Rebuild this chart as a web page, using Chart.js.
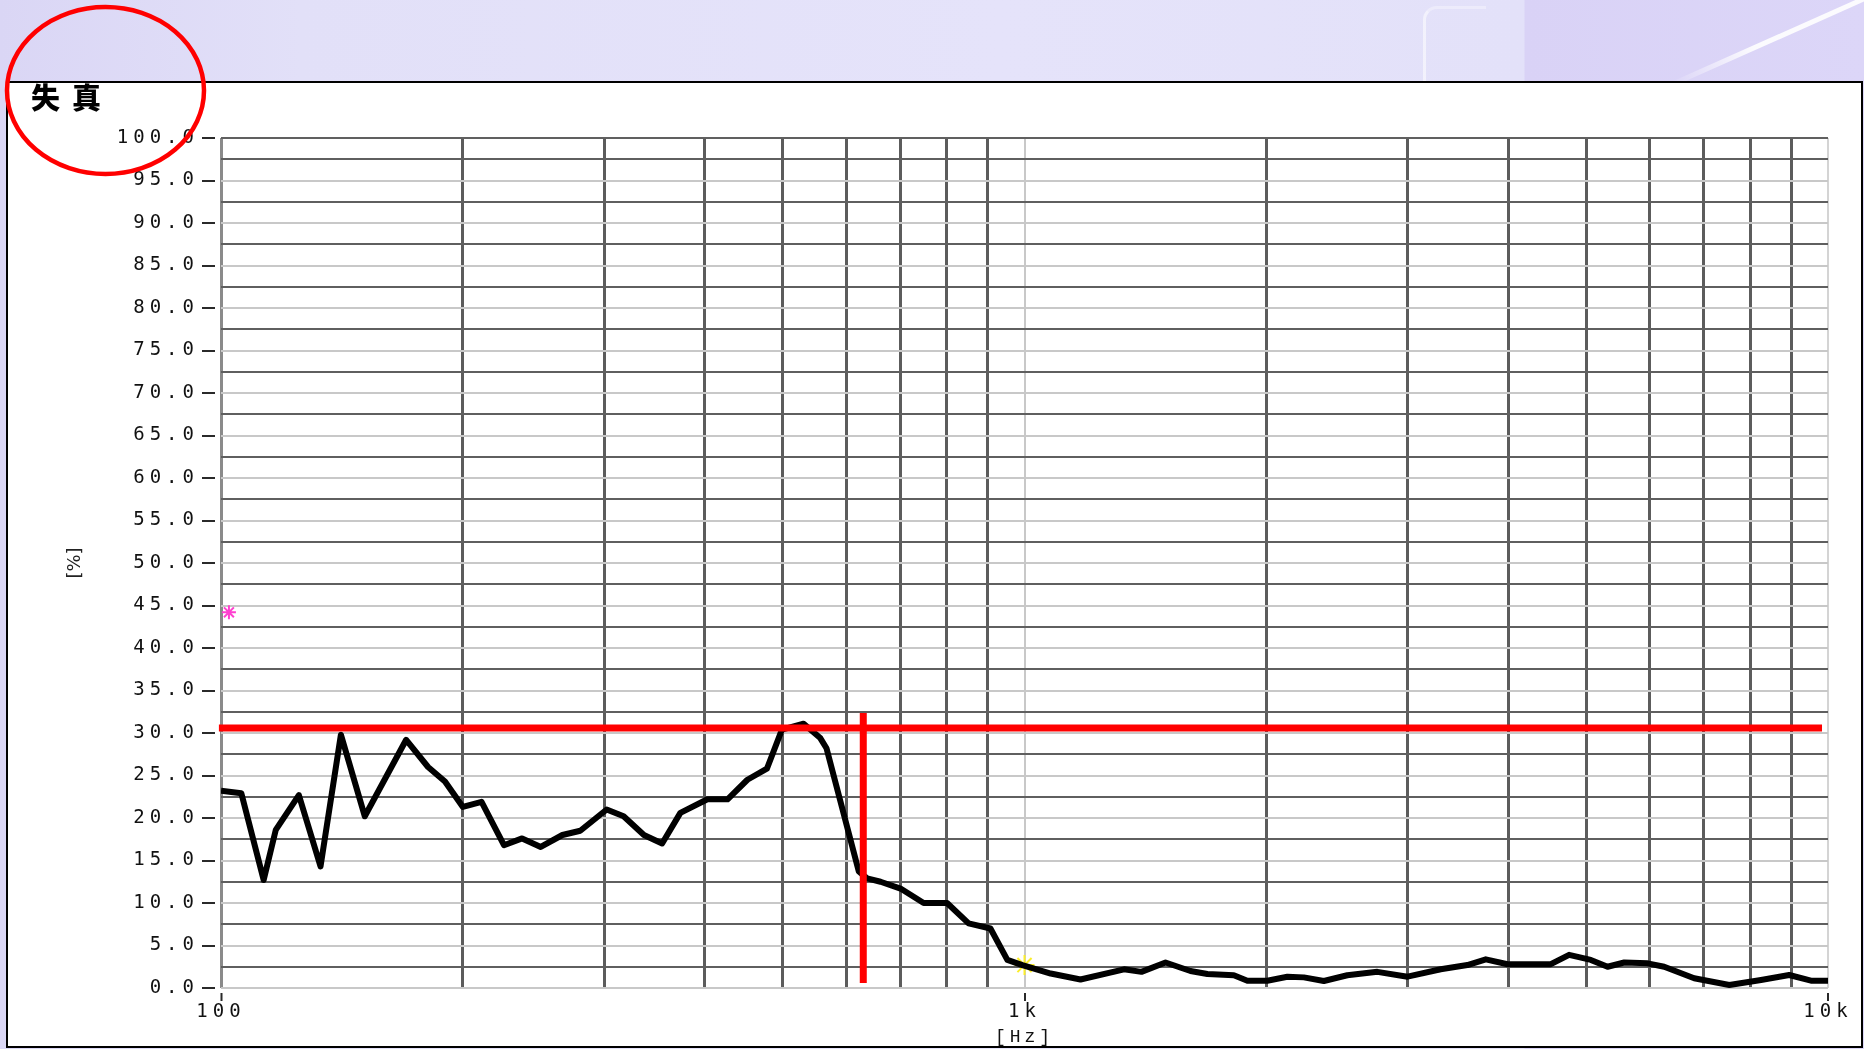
<!DOCTYPE html>
<html><head><meta charset="utf-8">
<script src="https://cdn.jsdelivr.net/npm/chart.js@4.4.1/dist/chart.umd.min.js"></script>
<style>
html,body{margin:0;padding:0}
body{width:1864px;height:1049px;overflow:hidden;position:relative;
background:linear-gradient(90deg,#dad6f5 0px,#e2e0f8 300px,#e5e3fa 1000px,#e3e1f9 1524px,#d9d2f6 1525px,#dcd6f8 1864px);}
#frame{position:absolute;left:6px;top:81px;width:1857px;height:967px;box-sizing:border-box;border:2px solid #000;background:#fff}
#swoosh{position:absolute;left:1660px;top:36px;width:230px;height:5px;background:linear-gradient(90deg,rgba(255,255,255,0),rgba(255,255,255,.9) 40%,rgba(255,255,255,.9));transform:rotate(-24deg);}
#corner{position:absolute;left:1423px;top:6px;width:60px;height:76px;border-left:3px solid rgba(255,255,255,.55);border-top:3px solid rgba(255,255,255,.35);border-top-left-radius:14px;}
canvas{position:absolute;left:0;top:0}
</style></head><body>
<div id="corner"></div><div id="swoosh"></div>
<div id="frame"></div>
<canvas id="c" width="1864" height="1049"></canvas>
<script>
// ---- data ----
const freqHz = [100,106,113,117,125,133,141,151,170,181,190,200,211,225,237,250,266,280,302,317,336,354,373,403,427,452,478,499,531,557,567,622,637,662,701,749,801,852,907,952,994,1078,1174,1330,1398,1498,1609,1689,1822,1894,2005,2124,2227,2358,2522,2749,2997,3296,3558,3751,3992,4519,4762,5068,5317,5577,5963,6254,6815,7537,8253,8948,9524,10000];
const distortionPct = [23.2,22.9,12.7,18.6,22.7,14.3,29.8,20.2,29.2,26.0,24.3,21.3,21.9,16.8,17.6,16.6,18.0,18.5,21.0,20.2,18.0,17.0,20.6,22.2,22.2,24.5,25.8,30.4,31.1,29.4,28.2,13.7,12.9,12.5,11.7,10.0,10.0,7.6,7.0,3.3,2.7,1.7,1.0,2.2,1.9,3.0,2.0,1.65,1.5,0.86,0.86,1.33,1.25,0.82,1.5,1.9,1.33,2.2,2.7,3.37,2.8,2.8,3.9,3.3,2.5,3.0,2.9,2.5,1.14,0.35,0.94,1.53,0.86,0.86];

const refLevelPct = 30.6;            // red horizontal marker level
const refLevelSpanHz = [99.4, 9830]; // its extent
const cutoffHz = 630;                // red vertical marker
const cutoffSpanPct = [32.35, 0.6];
const cursorA = {x: 102.3, y: 44.2}; // magenta cursor
const cursorB = {x: 1000, y: 2.7};   // yellow cursor

const yGridValues = [0,2.5,5,7.5,10,12.5,15,17.5,20,22.5,25,27.5,30,32.5,35,37.5,40,42.5,45,47.5,50,52.5,55,57.5,60,62.5,65,67.5,70,72.5,75,77.5,80,82.5,85,87.5,90,92.5,95,97.5,100];
const yLabelValues = [0,5,10,15,20,25,30,35,40,45,50,55,60,65,70,75,80,85,90,95,100];
const xGridValues = [100,200,300,400,500,600,700,800,900,1000,2000,3000,4000,5000,6000,7000,8000,9000,10000];
const xLabelValues = [100,1000,10000];
const xLabelTexts = ['100','1k','10k'];

// ---- per-font letter spacing (reference text is horizontally stretched) ----
const canvas = document.getElementById('c');
const ctx = canvas.getContext('2d');
const spacingByFamily = [['DejaVu Sans Mono','5px'],['Liberation Mono','4px'],['Noto Sans CJK SC','12px']];
const fontDesc = Object.getOwnPropertyDescriptor(CanvasRenderingContext2D.prototype,'font');
Object.defineProperty(ctx,'font',{configurable:true,
  get(){return fontDesc.get.call(this);},
  set(v){fontDesc.set.call(this,v);let sp='0px';for(const [f,s] of spacingByFamily){if(String(v).includes(f)){sp=s;break;}}if('letterSpacing' in this)this.letterSpacing=sp;}});

const highlight = {cx:105.5, cy:90.5, rx:98.5, ry:83.5, width:4.5, color:'#ff0000'};
const circlePlugin = {id:'highlightCircle', afterDraw(chart){
  const c = chart.ctx; c.save(); c.strokeStyle = highlight.color; c.lineWidth = highlight.width;
  c.beginPath(); c.ellipse(highlight.cx, highlight.cy, highlight.rx, highlight.ry, 0, 0, Math.PI*2); c.stroke(); c.restore();
}};

const mainLine = freqHz.map((f,i)=>({x:f, y:distortionPct[i]}));

new Chart(ctx, {
  type:'line',
  data:{datasets:[
    {data:[{x:refLevelSpanHz[0],y:refLevelPct},{x:refLevelSpanHz[1],y:refLevelPct}], borderColor:'#ff0000', borderWidth:7, pointRadius:0, borderCapStyle:'butt', clip:false, order:0},
    {data:[{x:cutoffHz,y:cutoffSpanPct[0]},{x:cutoffHz,y:cutoffSpanPct[1]}], borderColor:'#ff0000', borderWidth:7, pointRadius:0, borderCapStyle:'butt', clip:false, order:0},
    {data:[cursorA], showLine:false, pointStyle:'star', pointRadius:7, pointBorderColor:'#ff40d0', pointBorderWidth:2, clip:false, order:0},
    {data:mainLine, borderColor:'#000000', borderWidth:6, pointRadius:0, tension:0, borderJoinStyle:'round', order:1},
    {data:[cursorB], showLine:false, pointStyle:'star', pointRadius:10, pointBorderColor:'#fbee2a', pointBorderWidth:2, clip:false, order:2}
  ]},
  options:{
    responsive:false, animation:false, devicePixelRatio:1, events:[],
    layout:{padding:{left:31, top:83, right:36, bottom:0}},
    plugins:{
      legend:{display:false}, tooltip:{enabled:false},
      title:{display:true, text:'失真', align:'start', color:'#000',
        font:{family:"'Noto Sans CJK SC', sans-serif", size:29, weight:'900', lineHeight:1},
        padding:{top:0, bottom:26}}
    },
    scales:{
      x:{type:'logarithmic', min:100, max:10000,
        afterBuildTicks:s=>{s.ticks = xGridValues.map(v=>({value:v}));},
        afterFit:s=>{s.height = 61; s.paddingLeft = 0; s.paddingRight = 0;},
        ticks:{autoSkip:false, maxRotation:0, minRotation:0, padding:0, color:'#111',
          font:{family:"'DejaVu Sans Mono', monospace", size:19},
          callback:v=>{const i = xLabelValues.indexOf(v); return i>=0 ? xLabelTexts[i] : '';}},
        grid:{
          color:c=>{const v=c.tick.value; if(v===1000) return '#c8c8c8'; if(v===10000) return '#d4d4d4'; if(v===100) return '#8a8a8a'; return '#5c5c5c';},
          lineWidth:c=>{const v=c.tick.value; return (v===1000||v===10000) ? 2 : 3;},
          tickLength:13, tickWidth:2, tickBorderDash:[0,5,8,100],
          tickColor:c=>xLabelValues.includes(c.tick.value) ? '#2a2a2a' : 'rgba(0,0,0,0)'},
        border:{display:false},
        title:{display:true, text:'[Hz]', color:'#111', font:{family:"'Liberation Mono', monospace", size:18}, padding:{top:0,bottom:1}}
      },
      y:{type:'linear', min:0, max:100,
        afterBuildTicks:s=>{s.ticks = yGridValues.map(v=>({value:v}));},
        afterFit:s=>{s.width = 190; s.paddingTop = 0; s.paddingBottom = 0;},
        ticks:{autoSkip:false, padding:3, color:'#111',
          font:{family:"'DejaVu Sans Mono', monospace", size:19},
          callback:v=>yLabelValues.includes(v) ? v.toFixed(1) : ''},
        grid:{
          color:c=>{const v=c.tick.value; if(v===100) return '#606060'; return yLabelValues.includes(v) ? '#c8c8c8' : '#5f5f5f';},
          lineWidth:2, tickLength:19, tickWidth:2, tickBorderDash:[13,100],
          tickColor:c=>yLabelValues.includes(c.tick.value) ? '#2a2a2a' : 'rgba(0,0,0,0)'},
        border:{display:false},
        title:{display:true, text:'[%]', color:'#222', font:{family:"'DejaVu Sans', sans-serif", size:18}, padding:{top:34,bottom:0}}
      }
    }
  },
  plugins:[circlePlugin]
});
</script>
</body></html>
